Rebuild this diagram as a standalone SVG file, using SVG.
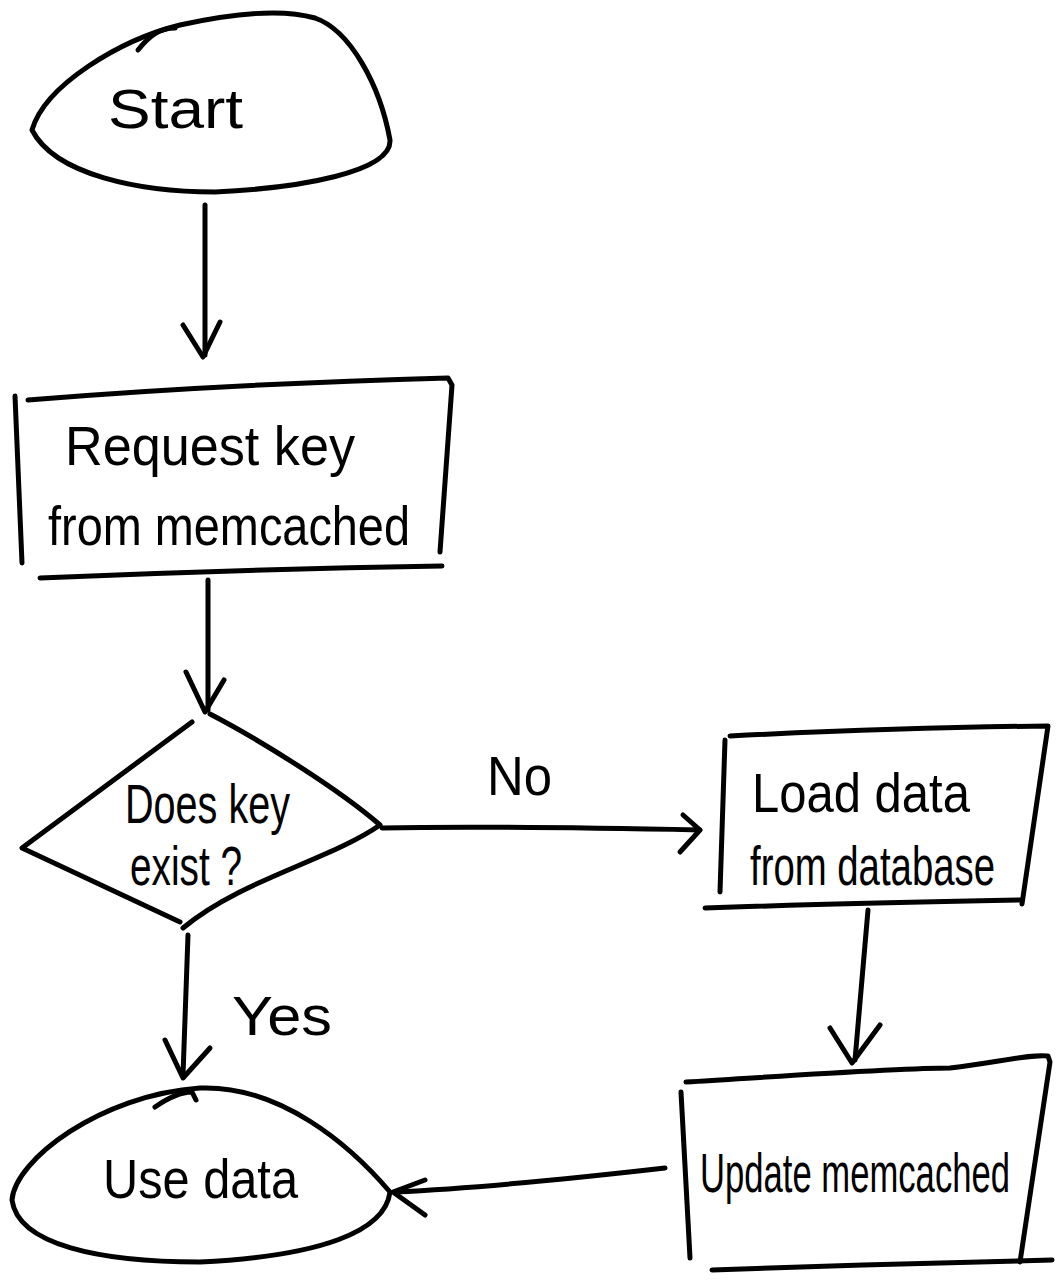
<svg xmlns="http://www.w3.org/2000/svg" width="1062" height="1281" viewBox="0 0 1062 1281">
<style>
.s{fill:none;stroke:#000;stroke-width:5;stroke-linecap:round;stroke-linejoin:round}
.t{font-family:"Liberation Sans",Arial,sans-serif;fill:#000;font-size:56px}
</style>
<rect width="1062" height="1281" fill="#fff"/>
<g id="start">
<path class="s" d="M32,130 C45,85 120,40 180,25 C230,14 280,8 315,18 C350,30 380,85 390,140 C392,172 300,188 215,192 C140,192 55,175 32,130 Z"/>
<path class="s" d="M138,50 C150,35 160,28 175,28"/>
<text class="t" x="108" y="128" font-size="60" textLength="135" lengthAdjust="spacingAndGlyphs">Start</text>
</g>
<g id="request">
<path class="s" d="M15,396 L22,563"/>
<path class="s" d="M28,400 C150,390 300,382 448,378 L452,385 L440,552"/>
<path class="s" d="M40,578 C180,572 320,568 442,566"/>
<text class="t" x="65" y="465" textLength="290" lengthAdjust="spacingAndGlyphs">Request key</text>
<text class="t" x="48" y="545" textLength="362" lengthAdjust="spacingAndGlyphs">from memcached</text>
</g>
<g id="decision">
<path class="s" d="M192,722 L22,848 L180,922"/>
<path class="s" d="M210,714 C260,740 340,790 380,825 C330,860 240,880 183,928"/>
<text class="t" x="125" y="823" font-size="48" textLength="165" lengthAdjust="spacingAndGlyphs">Does key</text>
<text class="t" x="130" y="885" font-size="46" textLength="112" lengthAdjust="spacingAndGlyphs">exist ?</text>
</g>
<g id="load">
<path class="s" d="M725,740 L720,892"/>
<path class="s" d="M730,736 C850,730 950,727 1048,726 L1022,904"/>
<path class="s" d="M705,908 C820,904 920,902 1020,900"/>
<text class="t" x="752" y="812" textLength="218" lengthAdjust="spacingAndGlyphs">Load data</text>
<text class="t" x="750" y="885" textLength="245" lengthAdjust="spacingAndGlyphs">from database</text>
</g>
<g id="update">
<path class="s" d="M681,1092 L690,1258"/>
<path class="s" d="M686,1082 C800,1075 900,1068 950,1068 C1000,1062 1030,1054 1048,1056 L1050,1062 L1020,1262"/>
<path class="s" d="M712,1270 C820,1266 950,1262 1052,1260"/>
<text class="t" x="700" y="1192" textLength="310" lengthAdjust="spacingAndGlyphs">Update memcached</text>
</g>
<g id="usedata">
<path class="s" d="M12,1200 C15,1160 100,1095 200,1088 C280,1085 350,1145 390,1192 C385,1232 320,1256 200,1262 C100,1262 18,1245 12,1200 Z"/>
<path class="s" d="M155,1107 C168,1098 180,1092 192,1092 L196,1100"/>
<text class="t" x="103" y="1198" font-size="62" textLength="195" lengthAdjust="spacingAndGlyphs">Use data</text>
</g>
<g id="connectors">
<path class="s" d="M205,205 L205,355"/>
<path class="s" d="M183,325 L203,357 L220,322"/>
<path class="s" d="M208,580 L208,710"/>
<path class="s" d="M186,672 L205,712 L224,680"/>
<path class="s" d="M382,828 C480,826 600,828 700,830"/>
<path class="s" d="M683,815 L700,830 L680,852"/>
<text class="t" x="487" y="795" font-size="56" textLength="65" lengthAdjust="spacingAndGlyphs">No</text>
<path class="s" d="M868,910 L855,1060"/>
<path class="s" d="M830,1028 L852,1063 L880,1025"/>
<path class="s" d="M188,935 L183,1075"/>
<path class="s" d="M165,1040 L183,1078 L210,1048"/>
<text class="t" x="232" y="1035" font-size="64" textLength="100" lengthAdjust="spacingAndGlyphs">Yes</text>
<path class="s" d="M665,1168 C560,1180 480,1188 395,1192"/>
<path class="s" d="M425,1180 L393,1192 L425,1215"/>
</g>
</svg>
